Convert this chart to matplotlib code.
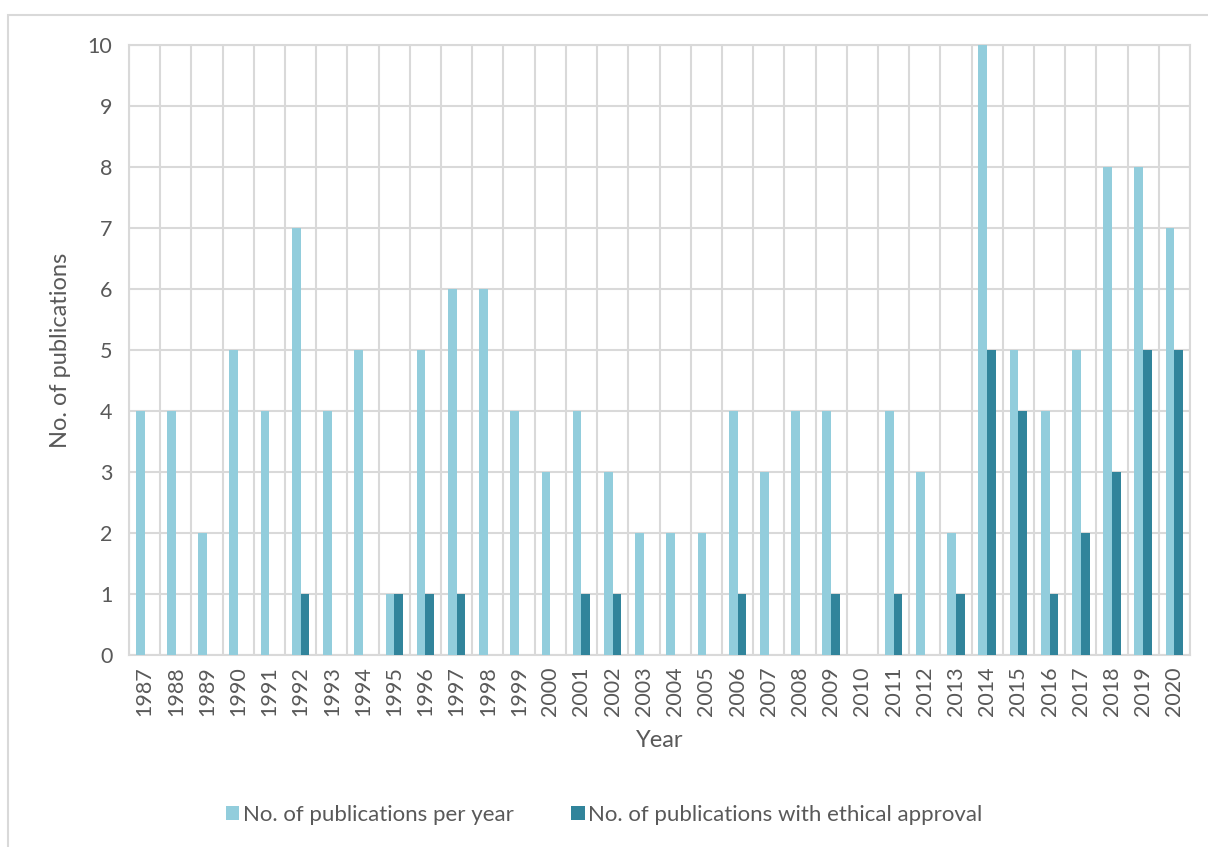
import numpy as np
import matplotlib.pyplot as plt
from matplotlib.patches import Rectangle

years = [str(y) for y in range(1987, 2021)]
per_year = [4, 4, 2, 5, 4, 7, 4, 5, 1, 5, 6, 6, 4, 3, 4, 3, 2, 2, 2, 4,
            3, 4, 4, 0, 4, 3, 2, 10, 5, 4, 5, 8, 8, 7]
ethical = [0, 0, 0, 0, 0, 1, 0, 0, 1, 1, 1, 0, 0, 0, 1, 1, 0, 0, 0, 1,
           0, 0, 1, 0, 1, 0, 1, 5, 4, 1, 2, 3, 5, 5]

light = '#92CDDC'
dark = '#31849B'
grid = '#D9D9D9'
txt = '#595959'

plt.rcParams['font.family'] = ['Lato', 'DejaVu Sans']

fig = plt.figure(figsize=(12.08, 8.47), dpi=100)
ax = fig.add_axes([129 / 1208, 1 - 655 / 847, (1190 - 129) / 1208, (655 - 45) / 847])

# outer chart frame
fig.patches.append(Rectangle((8 / 1208, -0.1), 1.2, 1 - 15 / 847 + 0.1,
                             transform=fig.transFigure, fill=False,
                             edgecolor='#D9D9D9', linewidth=1.5))

x = np.arange(len(years))
w = 0.28
ax.bar(x - w / 2, per_year, w, color=light, label='No. of publications per year', zorder=3)
ax.bar(x + w / 2, ethical, w, color=dark, label='No. of publications with ethical approval', zorder=3)

ax.set_xlim(-0.5, len(years) - 0.5)
ax.set_ylim(0, 10)
ax.set_yticks(range(0, 11))
ax.set_xticks(x)
ax.set_xticklabels(years, rotation=90)
ax.set_xticks(np.arange(-0.5, len(years)), minor=True)
ax.grid(False)
ax.yaxis.grid(True, color=grid, linewidth=1.5, zorder=0)
ax.xaxis.grid(True, which='minor', color=grid, linewidth=1.5, zorder=0)
for s in ax.spines.values():
    s.set_color(grid)
    s.set_linewidth(1.5)
ax.tick_params(axis='both', which='both', length=0, labelsize=15.5, colors=txt)
ax.tick_params(axis='y', pad=12)
ax.tick_params(axis='x', pad=8)

ax.set_xlabel('Year', fontsize=17, color=txt, labelpad=10)
ax.set_ylabel('No. of publications', fontsize=17, color=txt, labelpad=12)

fig.legend(loc='center', bbox_to_anchor=(0.5, 1 - 815 / 847), ncol=2, frameon=False,
           fontsize=16, labelcolor=txt, handlelength=0.6, handleheight=0.6,
           handletextpad=0.15, columnspacing=2.6)

fig.savefig('out.png', dpi=100)
